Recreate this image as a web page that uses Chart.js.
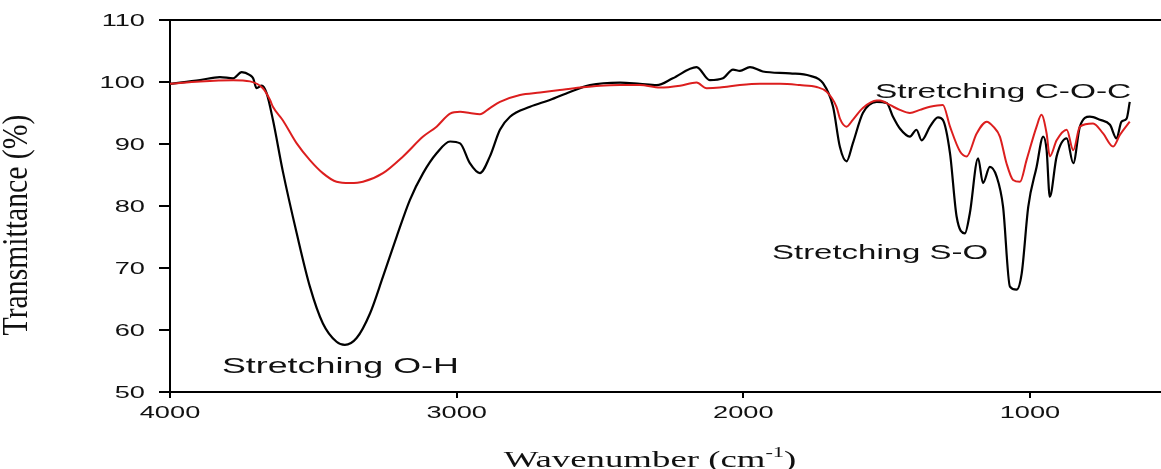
<!DOCTYPE html>
<html>
<head>
<meta charset="utf-8">
<script src="https://cdn.jsdelivr.net/npm/chart.js@4"></script>
<style>
  html, body { margin: 0; padding: 0; background: #fff; }
  #ftir { display: block; }
</style>
</head>
<body>
<canvas id="ftir" width="1161" height="469"></canvas>
<script>
// Black spectrum: wavenumber (cm-1) and transmittance (%)
const wnBlack = [4000, 3895, 3826, 3780, 3750, 3721, 3710, 3698, 3680, 3663, 3641, 3606, 3558, 3512, 3467, 3419, 3390, 3349, 3302, 3257, 3209, 3163, 3117, 3070, 3023, 2988, 2954, 2919, 2884, 2849, 2814, 2744, 2675, 2605, 2535, 2430, 2361, 2302, 2246, 2163, 2117, 2071, 2036, 2012, 1977, 1932, 1837, 1768, 1722, 1687, 1663, 1640, 1618, 1583, 1535, 1500, 1478, 1454, 1419, 1396, 1378, 1349, 1321, 1304, 1279, 1256, 1227, 1210, 1181, 1164, 1140, 1116, 1094, 1070, 1047, 1029, 1006, 977, 954, 942, 931, 907, 872, 849, 826, 791, 756, 721, 698, 681, 663, 652];
const tBlack = [99.7, 100.3, 100.8, 100.6, 101.6, 101.1, 100.6, 99.0, 99.4, 98.2, 93.9, 85.5, 75.6, 67.0, 61.1, 58.1, 57.6, 58.7, 62.7, 68.6, 75.1, 81.0, 85.3, 88.5, 90.4, 90.1, 86.9, 85.3, 88.0, 92.3, 94.4, 96.0, 97.1, 98.4, 99.5, 99.9, 99.7, 99.5, 100.6, 102.4, 100.3, 100.6, 102.0, 101.8, 102.4, 101.7, 101.4, 101.0, 99.8, 96.0, 89.5, 87.2, 90.1, 95.0, 96.8, 96.6, 94.4, 92.5, 91.2, 92.3, 90.6, 92.8, 94.3, 93.9, 88.5, 78.3, 75.6, 78.8, 87.7, 83.7, 86.3, 84.7, 79.9, 67.0, 66.5, 69.1, 79.9, 86.3, 91.2, 89.0, 81.5, 88.0, 90.9, 86.9, 92.8, 94.4, 93.9, 93.1, 90.9, 93.6, 94.1, 96.8];

// Red spectrum
const wnRed = [4000, 3895, 3780, 3721, 3676, 3651, 3641, 3606, 3558, 3512, 3467, 3419, 3372, 3327, 3257, 3187, 3117, 3070, 3023, 2988, 2954, 2919, 2884, 2849, 2779, 2709, 2640, 2570, 2500, 2430, 2361, 2291, 2221, 2163, 2128, 2082, 2012, 1942, 1872, 1803, 1744, 1709, 1675, 1663, 1640, 1618, 1583, 1535, 1523, 1489, 1454, 1419, 1384, 1349, 1304, 1279, 1244, 1221, 1186, 1151, 1128, 1105, 1082, 1059, 1035, 1012, 977, 960, 942, 931, 907, 872, 849, 826, 780, 745, 710, 686, 652];
const tRed = [99.7, 100.1, 100.3, 100.1, 99.0, 97.1, 96.0, 93.8, 90.1, 87.4, 85.3, 83.9, 83.7, 83.9, 85.3, 88.0, 91.2, 92.8, 94.9, 95.2, 95.0, 94.8, 95.8, 96.8, 97.9, 98.3, 98.7, 99.1, 99.4, 99.5, 99.5, 99.1, 99.4, 99.9, 99.0, 99.1, 99.5, 99.7, 99.7, 99.5, 99.2, 98.4, 96.0, 94.1, 92.8, 93.9, 95.8, 97.0, 97.0, 96.3, 95.5, 95.0, 95.5, 96.0, 96.3, 92.8, 88.8, 88.0, 91.7, 93.6, 92.8, 91.2, 86.9, 84.2, 83.9, 87.4, 92.8, 94.7, 91.7, 88.0, 90.6, 92.3, 89.0, 92.8, 93.3, 91.7, 89.6, 91.5, 93.6];

// axis ticks
const xTickValues = [4000, 3000, 2000, 1000];
const xTickLabels = ['4000', '3000', '2000', '1000'];
const yTickValues = [50, 60, 70, 80, 90, 100, 110];
const yTickLabels = ['50', '60', '70', '80', '90', '100', '110'];

// peak labels (left end / baseline in data units)
const noteTexts = ['Stretching O-H', 'Stretching S-O', 'Stretching C-O-C'];
const noteWn = [3819, 1900, 1541];
const noteT = [53.1, 71.5, 97.4];
const noteFontPx = [22.4, 20.6, 20.9];

const toPoints = (xs, ys) => xs.map((x, i) => ({ x: x, y: ys[i] }));

// the source picture is stretched sideways, so text is drawn with a scale
const SX = 1.6;
function drawText(ctx, txt, x, y, font, align, sx, sy, rot) {
    ctx.save();
    ctx.translate(x, y);
    if (rot) ctx.rotate(rot);
    ctx.scale(sx, sy);
    ctx.font = font;
    ctx.textAlign = align;
    ctx.fillStyle = '#111';
    ctx.fillText(txt, 0, 0);
    ctx.restore();
}

const textPlugin = {
    id: 'ftirText',
    beforeDraw(chart) {
        const c = chart.ctx;
        c.save();
        c.fillStyle = '#fff';
        c.fillRect(0, 0, chart.width, chart.height);
        c.restore();
    },
    afterDraw(chart) {
        const c = chart.ctx;
        const xs = chart.scales.x, ys = chart.scales.y;
        c.textBaseline = 'alphabetic';
        yTickValues.forEach((v, i) => {
            drawText(c, yTickLabels[i], 145, ys.getPixelForValue(v) + 6, '17px "Liberation Sans"', 'right', SX, 1);
        });
        xTickValues.forEach((v, i) => {
            drawText(c, xTickLabels[i], xs.getPixelForValue(v), 418, '17px "Liberation Sans"', 'center', SX, 1);
        });
        noteTexts.forEach((t, i) => {
            drawText(c, t, xs.getPixelForValue(noteWn[i]), ys.getPixelForValue(noteT[i]),
                noteFontPx[i] + 'px "Liberation Sans"', 'left', SX, 1);
        });

        // y title
        drawText(c, 'Transmittance (%)', 27, 225, '22px "Liberation Serif"', 'center', 1.35, 1.6, -Math.PI / 2);
        // x title with superscript
        c.save();
        c.font = '23px "Liberation Serif"';
        const w1 = c.measureText('Wavenumber (cm').width;
        const w3 = c.measureText(')').width;
        c.font = '14px "Liberation Serif"';
        const w2 = c.measureText('-1').width;
        c.restore();
        const total = (w1 + w2 + w3) * SX;
        let x0 = 650 - total / 2;
        drawText(c, 'Wavenumber (cm', x0, 467, '23px "Liberation Serif"', 'left', SX, 1);
        drawText(c, '-1', x0 + w1 * SX, 457, '14px "Liberation Serif"', 'left', SX, 1);
        drawText(c, ')', x0 + (w1 + w2) * SX, 467, '23px "Liberation Serif"', 'left', SX, 1);
    }
};

const ctx = document.getElementById('ftir').getContext('2d');
new Chart(ctx, {
    type: 'line',
    data: {
        datasets: [
            {
                label: 'red',
                data: toPoints(wnRed, tRed),
                borderColor: '#dc1e1e',
                borderWidth: 2,
                pointRadius: 0,
                cubicInterpolationMode: 'monotone',
                order: 0
            },
            {
                label: 'black',
                data: toPoints(wnBlack, tBlack),
                borderColor: '#000',
                borderWidth: 2.2,
                pointRadius: 0,
                cubicInterpolationMode: 'monotone',
                order: 1
            }
        ]
    },
    options: {
        responsive: false,
        animation: false,
        devicePixelRatio: 1,
        layout: { padding: 0 },
        plugins: { legend: { display: false }, tooltip: { enabled: false } },
        scales: {
            x: {
                type: 'linear',
                reverse: true,
                min: 543,
                max: 4000,
                position: 'bottom',
                afterBuildTicks: s => { s.ticks = xTickValues.map(v => ({ value: v })); },
                afterFit: s => { s.height = 77; },
                ticks: { display: false },
                grid: { drawOnChartArea: false, drawTicks: true, tickLength: 6, color: '#000', lineWidth: 2 },
                border: { display: true, color: '#000', width: 2 }
            },
            xTop: {
                type: 'linear',
                reverse: true,
                min: 543,
                max: 4000,
                position: 'top',
                afterFit: s => { s.height = 20; },
                ticks: { display: false },
                grid: { drawOnChartArea: false, drawTicks: false },
                border: { display: true, color: '#000', width: 2 }
            },
            y: {
                min: 50,
                max: 110,
                afterBuildTicks: s => { s.ticks = yTickValues.map(v => ({ value: v })); },
                afterFit: s => { s.width = 170; },
                ticks: { display: false },
                grid: { drawOnChartArea: false, drawTicks: true, tickLength: 11, color: '#000', lineWidth: 2 },
                border: { display: true, color: '#000', width: 2 }
            }
        }
    },
    plugins: [textPlugin]
});
</script>
</body>
</html>
